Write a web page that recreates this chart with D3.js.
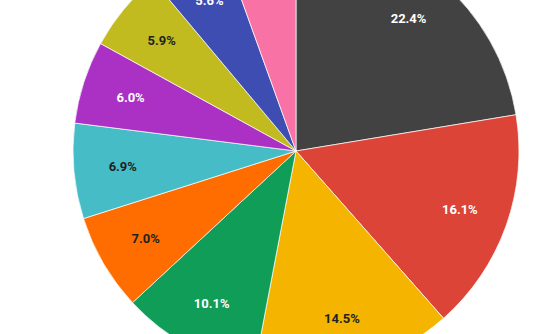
<!DOCTYPE html>
<html><head><meta charset="utf-8">
<script src="https://cdn.jsdelivr.net/npm/d3@7"></script>
<style>html,body{margin:0;padding:0;background:#fff;overflow:hidden}</style>
</head><body>
<svg id="c" width="558" height="334"></svg>
<script>
const categories = ["A","B","C","D","E","F","G","H","I","J"];
const values = [22.4, 16.1, 14.5, 10.1, 7.0, 6.9, 6.0, 5.9, 5.6, 5.5];
const colors = ["#424242","#db4437","#f4b400","#0f9d58","#ff6d00","#46bdc6","#ab30c4","#c2bb1f","#3d4db1","#f972a6"];
const labelColors = ["#fff","#fff","#222","#fff","#222","#222","#fff","#222","#fff","#fff"];

const svg = d3.select("#c");
const cx = 296, cy = 151, r = 223;
const g = svg.append("g").attr("transform", `translate(${cx},${cy})`);
const pie = d3.pie().sort(null).value(d => d.v);
const data = pie(categories.map((c,i)=>({c, v: values[i], i})));
const arc = d3.arc().innerRadius(0).outerRadius(r);
const lab = d3.arc().innerRadius(r*0.78).outerRadius(r*0.78);
g.selectAll("path").data(data).join("path")
  .attr("d", arc).attr("fill", d => colors[d.data.i])
  .attr("stroke", "#fff").attr("stroke-width", 0.7);
g.selectAll("text").data(data).join("text")
  .attr("transform", d => `translate(${lab.centroid(d)})`)
  .attr("text-anchor","middle").attr("dy","0.35em")
  .attr("font-family","Roboto, 'Noto Sans', sans-serif")
  .attr("font-weight","bold").attr("font-size","13px")
  .attr("fill", d => labelColors[d.data.i])
  .text(d => d.data.v.toFixed(1) + "%");
</script>
</body></html>
